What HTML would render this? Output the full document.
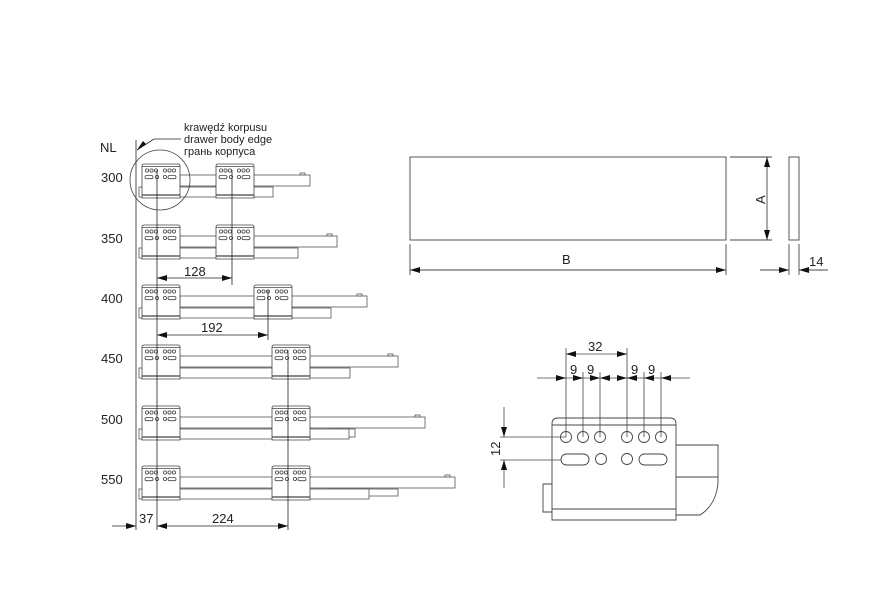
<!DOCTYPE html>
<html><head><meta charset="utf-8"><style>
html,body{margin:0;padding:0;background:#fff;}
svg{display:block;font-family:"Liberation Sans",sans-serif;}
text{font-family:"Liberation Sans","Noto Sans CJK SC",sans-serif;fill:#222;}
</style></head><body>
<svg width="893" height="608" viewBox="0 0 893 608" xmlns="http://www.w3.org/2000/svg">
<defs>
<marker id="ar" viewBox="0 0 10 6" refX="10" refY="3" markerWidth="10" markerHeight="6" orient="auto-start-reverse" markerUnits="userSpaceOnUse"><path d="M0,0 L10,3 L0,6z" fill="#111"/></marker>
<g id="br" fill="#fff" stroke="#444" stroke-width="0.8">
<path d="M0,34 L0,2 Q0,0 2,0 L36,0 Q38,0 38,2 L38,34 Z"/>
<line x1="0" y1="2.5" x2="38" y2="2.5"/>
<line x1="0" y1="31" x2="38" y2="31" stroke-width="1.2"/>
<circle cx="5" cy="6.5" r="1.6"/><circle cx="9.5" cy="6.5" r="1.6"/><circle cx="14" cy="6.5" r="1.6"/>
<circle cx="23" cy="6.5" r="1.6"/><circle cx="27.5" cy="6.5" r="1.6"/><circle cx="32" cy="6.5" r="1.6"/>
<rect x="3" y="11.5" width="8" height="3.2" rx="1.6"/><circle cx="15" cy="13" r="1.6"/>
<circle cx="23" cy="13" r="1.6"/><rect x="26" y="11.5" width="8" height="3.2" rx="1.6"/>
</g>
</defs>
<g stroke="#555" stroke-width="0.8" fill="#fff">
<!-- row 300 L=177 -->
<rect x="139" y="187" width="134" height="10"/><rect x="180" y="175" width="130" height="11"/><rect x="300" y="173" width="5" height="2"/>
<!-- 350 L=238 -->
<rect x="139" y="248" width="159" height="10"/><rect x="180" y="236" width="157" height="11"/><rect x="327" y="234" width="5" height="2"/>
<!-- 400 L=298 -->
<rect x="139" y="308" width="192" height="10"/><rect x="180" y="296" width="187" height="11"/><rect x="357" y="294" width="5" height="2"/>
<!-- 450 L=358 -->
<rect x="139" y="368" width="211" height="10"/><rect x="180" y="356" width="218" height="11"/><rect x="388" y="354" width="5" height="2"/>
<!-- 500 L=419 -->
<rect x="330" y="429" width="25" height="8"/><rect x="139" y="429" width="210" height="10"/><rect x="180" y="417" width="245" height="11"/><rect x="415" y="415" width="5" height="2"/>
<!-- 550 L=479 -->
<rect x="330" y="489" width="68" height="7"/><rect x="139" y="489" width="230" height="10"/><rect x="180" y="477" width="275" height="11"/><rect x="445" y="475" width="5" height="2"/>
</g>
<use href="#br" x="142" y="164"/><use href="#br" x="216" y="164"/>
<use href="#br" x="142" y="225"/><use href="#br" x="216" y="225"/>
<use href="#br" x="142" y="285"/><use href="#br" x="254" y="285"/>
<use href="#br" x="142" y="345"/><use href="#br" x="272" y="345"/>
<use href="#br" x="142" y="406"/><use href="#br" x="272" y="406"/>
<use href="#br" x="142" y="466"/><use href="#br" x="272" y="466"/>
<g stroke="#222" stroke-width="0.8" fill="none">
<line x1="136" y1="140" x2="136" y2="530"/>
<line x1="157" y1="170" x2="157" y2="530"/>
<line x1="232" y1="170" x2="232" y2="285"/>
<line x1="268" y1="290" x2="268" y2="340"/>
<line x1="288" y1="350" x2="288" y2="530"/>
<circle cx="160" cy="180" r="30" stroke="#444"/>
<polyline points="181,139 154,139 137,150" />
<line x1="157" y1="278" x2="232" y2="278" marker-start="url(#ar)" marker-end="url(#ar)"/>
<line x1="157" y1="335" x2="268" y2="335" marker-start="url(#ar)" marker-end="url(#ar)"/>
<line x1="112" y1="526" x2="136" y2="526" marker-end="url(#ar)"/>
<line x1="157" y1="526" x2="288" y2="526" marker-start="url(#ar)" marker-end="url(#ar)"/>
</g>
<path d="M137,150 L146,144 L143,141 Z" fill="#111"/>
<text x="184" y="131" font-size="11">krawędź korpusu</text>
<text x="184" y="143" font-size="11">drawer body edge</text>
<text x="184" y="155" font-size="11">грань корпуса</text>
<g font-size="13">
<text x="100" y="152">NL</text>
<text x="101" y="182">300</text><text x="101" y="243">350</text><text x="101" y="303">400</text>
<text x="101" y="363">450</text><text x="101" y="424">500</text><text x="101" y="484">550</text>
<text x="184" y="276">128</text><text x="201" y="332">192</text>
<text x="139" y="523">37</text><text x="212" y="523">224</text>
</g>
<!-- top right -->
<g stroke="#444" stroke-width="0.9" fill="none">
<rect x="410" y="157" width="316" height="83"/>
<rect x="789" y="157" width="10" height="83"/>
<line x1="730" y1="157" x2="772" y2="157"/><line x1="730" y1="240" x2="772" y2="240"/>
<line x1="767" y1="157" x2="767" y2="240" marker-start="url(#ar)" marker-end="url(#ar)"/>
<line x1="410" y1="244" x2="410" y2="275"/><line x1="726" y1="244" x2="726" y2="275"/>
<line x1="410" y1="270" x2="726" y2="270" marker-start="url(#ar)" marker-end="url(#ar)"/>
<line x1="789" y1="244" x2="789" y2="275"/><line x1="799" y1="244" x2="799" y2="275"/>
<line x1="760" y1="270" x2="789" y2="270" marker-end="url(#ar)"/>
<line x1="828" y1="270" x2="799" y2="270" marker-end="url(#ar)"/>
</g>
<text x="562" y="264" font-size="13">B</text>
<text x="809" y="266" font-size="13">14</text>
<text transform="translate(765,204) rotate(-90)" font-size="13">A</text>
<!-- bottom right detail -->
<g stroke="#444" stroke-width="0.9" fill="#fff">
<path d="M676,445 L718,445 L718,483 Q716,505 700,515 L676,515"/>
<line x1="676" y1="477" x2="718" y2="477"/>
<path d="M552,484 L543,484 L543,512 L552,512"/>
<path d="M552,520 L552,424 Q552,418 558,418 L670,418 Q676,418 676,424 L676,520 Z"/>
<line x1="552" y1="425" x2="676" y2="425"/>
<line x1="552" y1="509" x2="676" y2="509"/>
<circle cx="566" cy="437" r="5.5"/><circle cx="583" cy="437" r="5.5"/><circle cx="600" cy="437" r="5.5"/>
<circle cx="627" cy="437" r="5.5"/><circle cx="644" cy="437" r="5.5"/><circle cx="661" cy="437" r="5.5"/>
<rect x="561" y="454" width="28" height="11" rx="5.5"/><circle cx="601" cy="459" r="5.5"/>
<circle cx="627" cy="459" r="5.5"/><rect x="639" y="454" width="28" height="11" rx="5.5"/>
</g>
<g stroke="#444" stroke-width="0.8" fill="none">
<line x1="566" y1="348" x2="566" y2="437"/><line x1="583" y1="372" x2="583" y2="437"/><line x1="600" y1="372" x2="600" y2="437"/>
<line x1="627" y1="348" x2="627" y2="437"/><line x1="644" y1="372" x2="644" y2="437"/><line x1="661" y1="372" x2="661" y2="437"/>
<line x1="566" y1="354" x2="627" y2="354" marker-start="url(#ar)" marker-end="url(#ar)"/>
<line x1="537" y1="378" x2="566" y2="378" marker-end="url(#ar)"/>
<line x1="566" y1="378" x2="583" y2="378" marker-end="url(#ar)"/>
<line x1="583" y1="378" x2="600" y2="378" marker-end="url(#ar)"/>
<line x1="600" y1="378" x2="627" y2="378" marker-start="url(#ar)" marker-end="url(#ar)"/>
<line x1="627" y1="378" x2="644" y2="378" marker-start="url(#ar)"/>
<line x1="644" y1="378" x2="661" y2="378" marker-start="url(#ar)"/>
<line x1="690" y1="378" x2="661" y2="378" marker-end="url(#ar)"/>
<line x1="500" y1="437" x2="566" y2="437"/><line x1="500" y1="460" x2="561" y2="460"/>
<line x1="504" y1="407" x2="504" y2="437" marker-end="url(#ar)"/>
<line x1="504" y1="488" x2="504" y2="460" marker-end="url(#ar)"/>
</g>
<g font-size="13">
<text x="588" y="351">32</text>
<text x="570" y="374">9</text><text x="587" y="374">9</text>
<text x="631" y="374">9</text><text x="648" y="374">9</text>
<text transform="translate(500,456) rotate(-90)">12</text>
</g>
</svg>
</body></html>
